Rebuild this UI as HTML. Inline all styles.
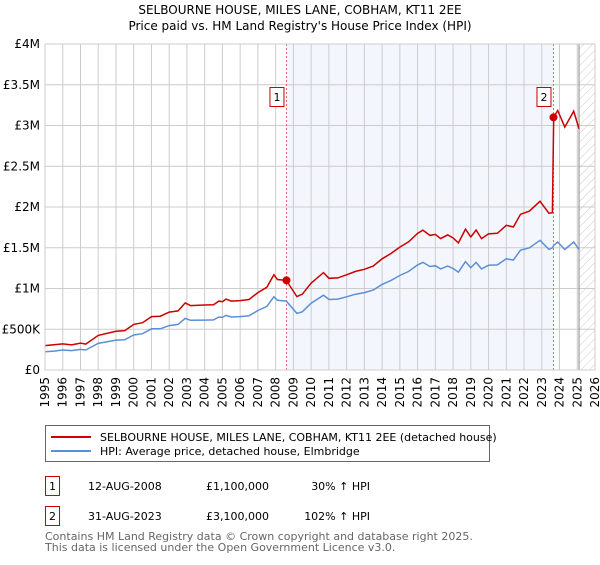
<!DOCTYPE html>
<html><head><meta charset="utf-8">
<style>
body{margin:0;background:#fff;font-family:"Liberation Sans","DejaVu Sans",sans-serif;}
svg text{font-family:"DejaVu Sans","Liberation Sans",sans-serif;}
</style></head>
<body>
<svg id="chart" width="600" height="560" xmlns="http://www.w3.org/2000/svg">
<defs>
<pattern id="hatch" patternUnits="userSpaceOnUse" width="6" height="6" patternTransform="rotate(45)">
<line x1="0" y1="0" x2="0" y2="6" stroke="#bbb" stroke-width="0.8"/>
</pattern>
</defs>
<text x="300" y="14" text-anchor="middle" font-size="12">SELBOURNE HOUSE, MILES LANE, COBHAM, KT11 2EE</text>
<text x="300" y="30" text-anchor="middle" font-size="12">Price paid vs. HM Land Registry's House Price Index (HPI)</text>
<g id="plot"></g>
<g>
<rect x="45.5" y="425.5" width="444" height="36" fill="#fff" stroke="#666"/>
<line x1="51" y1="437" x2="91" y2="437" stroke="#cc0000" stroke-width="2"/>
<text x="100" y="441" font-size="11">SELBOURNE HOUSE, MILES LANE, COBHAM, KT11 2EE (detached house)</text>
<line x1="51" y1="451" x2="91" y2="451" stroke="#5b8fd6" stroke-width="2"/>
<text x="100" y="455" font-size="11">HPI: Average price, detached house, Elmbridge</text>
</g>
<g font-size="11">
<rect x="45.5" y="476.5" width="14" height="19" fill="#fff" stroke="#cc0000"/>
<text x="52.5" y="490" text-anchor="middle">1</text>
<text x="88" y="490">12-AUG-2008</text>
<text x="206" y="490">£1,100,000</text>
<text x="370" y="490" text-anchor="end">30% ↑ HPI</text>
<rect x="45.5" y="506.5" width="14" height="19" fill="#fff" stroke="#cc0000"/>
<text x="52.5" y="520" text-anchor="middle">2</text>
<text x="88" y="520">31-AUG-2023</text>
<text x="206" y="520">£3,100,000</text>
<text x="370" y="520" text-anchor="end">102% ↑ HPI</text>
</g>
<text x="45" y="540" font-size="11" fill="#666">Contains HM Land Registry data © Crown copyright and database right 2025.</text>
<text x="45" y="551" font-size="11" fill="#666">This data is licensed under the Open Government Licence v3.0.</text>
</svg>
<script>
const years=[1995,1995.5,1996,1996.5,1997,1997.3,1998,1999,1999.5,2000,2000.5,2001,2001.5,2002,2002.5,2002.9,2003.2,2004,2004.5,2004.8,2005,2005.2,2005.5,2006,2006.5,2007,2007.5,2007.9,2008.1,2008.6,2009.2,2009.5,2010,2010.7,2011,2011.5,2012,2012.5,2013,2013.5,2014,2014.5,2015,2015.5,2016,2016.3,2016.7,2017,2017.3,2017.7,2018,2018.3,2018.7,2019,2019.3,2019.6,2020,2020.5,2021,2021.4,2021.8,2022.3,2022.9,2023.4,2023.6,2023.67,2023.9,2024.3,2024.8,2025.1];
const hpiValues=[224,232,245,238,253,245,326,367,372,430,445,505,505,545,560,633,610,612,615,650,645,670,650,655,665,730,780,898,855,846,694,714,820,918,865,870,898,930,950,980,1050,1100,1160,1210,1290,1320,1270,1280,1240,1275,1245,1200,1330,1255,1320,1240,1285,1290,1365,1350,1470,1500,1592,1480,1500,1530,1571,1478,1571,1478];
const priceValues=[300,310,320,308,330,318,425,475,483,560,580,655,660,710,725,823,790,797,800,845,838,870,845,852,865,950,1015,1168,1110,1100,900,930,1065,1195,1125,1130,1168,1210,1235,1275,1365,1430,1508,1573,1677,1716,1651,1664,1612,1658,1620,1560,1729,1632,1716,1612,1670,1677,1775,1755,1911,1950,2070,1924,1930,3100,3184,2980,3176,2959];
const sales=[{label:'1',year:2008.61,value:1100},{label:'2',year:2023.66,value:3100}];
const yTicks=[0,500,1000,1500,2000,2500,3000,3500,4000];
const yTickLabels=['£0','£500K','£1M','£1.5M','£2M','£2.5M','£3M','£3.5M','£4M'];
const xTicks=[1995,1996,1997,1998,1999,2000,2001,2002,2003,2004,2005,2006,2007,2008,2009,2010,2011,2012,2013,2014,2015,2016,2017,2018,2019,2020,2021,2022,2023,2024,2025,2026];

const NS='http://www.w3.org/2000/svg';
const X0=45,X1=595,Y0=370,Y1=44;
const x=v=>X0+(v-1995)/(2026-1995)*(X1-X0);
const y=v=>Y0-v/4000*(Y0-Y1);
const g=document.getElementById('plot');
function mk(t,a,p){const e=document.createElementNS(NS,t);for(const k in a)e.setAttribute(k,a[k]);(p||g).appendChild(e);return e;}

let r=mk('rect',{x:x(2008.61),y:Y1,width:x(2023.66)-x(2008.61),height:Y0-Y1,fill:'#eef3fc',opacity:0.7});


r=mk('rect',{x:x(2025.1),y:Y1,width:X1-x(2025.1),height:Y0-Y1,fill:'url(#hatch)'});



yTicks.forEach((v,i)=>{
 let l=mk('line',{x1:X0,x2:X1,y1:y(v),y2:y(v),stroke:'#ccc','stroke-width':1});
 
 
 let t=mk('text',{x:40,y:y(v)+4,'text-anchor':'end','font-size':12});
 
 
 t.textContent=yTickLabels[i];
});
xTicks.forEach(v=>{
 let l=mk('line',{x1:x(v),x2:x(v),y1:Y1,y2:Y0,stroke:'#ccc','stroke-width':1});
 
 
 let t=mk('text',{x:0,y:0,'font-size':12,'text-anchor':'end',transform:`translate(${x(v)+4},${Y0+7}) rotate(-90)`});
 
 
 t.textContent=v;
});
let vl=mk('line',{x1:x(2025.1),x2:x(2025.1),y1:Y1,y2:Y0,stroke:'#888','stroke-width':1});



sales.forEach(s=>{
 let l=mk('line',{x1:x(s.year),x2:x(s.year),y1:Y1,y2:Y0,stroke:'#e06666','stroke-width':1,'stroke-dasharray':'2,2'});
 
 
});

const pts=(vals)=>years.map((yr,i)=>x(yr).toFixed(1)+','+y(vals[i]).toFixed(1)).join(' ');
let hp=mk('polyline',{points:pts(hpiValues),fill:'none',stroke:'#5b8fd6','stroke-width':1.5});


let pp=mk('polyline',{points:pts(priceValues),fill:'none',stroke:'#cc0000','stroke-width':1.5});



sales.forEach(s=>{
 let c=mk('circle',{cx:x(s.year),cy:y(s.value),r:4,fill:'#cc0000'});
 
 
 const bx=x(s.year)-17;
 let b=mk('rect',{x:bx+0.5,y:87.5,width:14,height:19,fill:'#fff',stroke:'#cc0000'});
 
 
 let t=mk('text',{x:bx+7.5,y:101,'text-anchor':'middle','font-size':11});
 
 
 t.textContent=s.label;
});
let bd=mk('rect',{x:X0,y:Y1,width:X1-X0,height:Y0-Y1,fill:'none',stroke:'#ccc'});


</script>
</body></html>
